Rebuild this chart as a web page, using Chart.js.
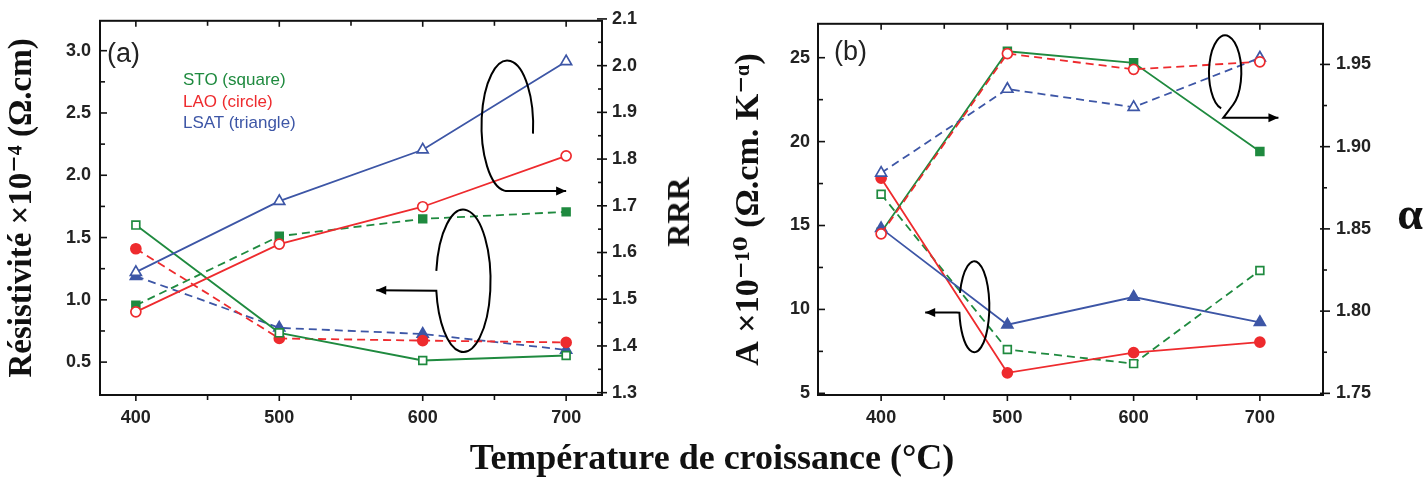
<!DOCTYPE html>
<html><head><meta charset="utf-8">
<script src="https://cdn.jsdelivr.net/npm/chart.js@4.4.1/dist/chart.umd.min.js"></script>
<style>
html,body{margin:0;padding:0;background:#fff;}
#wrap{position:relative;width:1425px;height:485px;overflow:hidden;background:#fff;}
canvas{position:absolute;top:0;}
.t{position:absolute;white-space:nowrap;line-height:1;}
.serif{font-family:"Liberation Serif","DejaVu Serif",serif;font-weight:bold;color:#111;}
.sans{font-family:"Liberation Sans",Arial,sans-serif;}
</style></head><body>
<div id="wrap">
  <canvas id="chartA" width="700" height="440" style="left:0px"></canvas>
  <canvas id="chartB" width="725" height="440" style="left:700px"></canvas>
  <div class="t sans" style="left:107px;top:40px;font-size:27px;color:#222;">(a)</div>
  <div class="t sans" style="left:834px;top:38px;font-size:27px;color:#222;">(b)</div>
  <div class="t sans" style="left:183px;top:71px;font-size:17px;color:#1f8a3f;">STO (square)</div>
  <div class="t sans" style="left:183px;top:93px;font-size:17px;color:#ee2b2e;">LAO (circle)</div>
  <div class="t sans" style="left:183px;top:114px;font-size:17px;color:#3d56a6;">LSAT (triangle)</div>
  <div class="t serif" style="left:678px;top:212px;font-size:32px;transform:translate(-50%,-50%) rotate(-90deg);">RRR</div>
  <div class="t serif" style="left:1410px;top:214px;font-size:46px;transform:translate(-50%,-50%);">α</div>
  <div class="t serif" style="left:712px;top:439px;font-size:36px;transform:translateX(-50%);">Température de croissance (°C)</div>
</div>
<script>
// ---- data ----
const temps = [400, 500, 600, 700];
// panel (a): resistivity (x1e-4 ohm.cm) and RRR
const rhoSTO  = [1.60, 0.735, 0.513, 0.553];
const rhoLAO  = [1.41, 0.69, 0.673, 0.658];
const rhoLSAT = [1.19, 0.775, 0.726, 0.598];
const rrrSTO  = [1.487, 1.635, 1.672, 1.687];
const rrrLAO  = [1.473, 1.618, 1.698, 1.807];
const rrrLSAT = [1.558, 1.710, 1.820, 2.009];
// panel (b): A (x1e-10) and alpha
const aSTO  = [16.86, 7.61, 6.77, 12.32];
const aLAO  = [17.82, 6.22, 7.42, 8.05];
const aLSAT = [14.83, 9.09, 10.74, 9.23];
const alphaSTO  = [1.848, 1.958, 1.951, 1.897];
const alphaLAO  = [1.847, 1.9566, 1.947, 1.9516];
const alphaLSAT = [1.884, 1.935, 1.924, 1.954];
// tick values
const xTicks = [400, 500, 600, 700];
const xMinor = [450, 550, 650];
const rhoTicks = [0.5, 1.0, 1.5, 2.0, 2.5, 3.0];
const rhoMinor = [0.75, 1.25, 1.75, 2.25, 2.75];
const rrrTicks = [1.3, 1.4, 1.5, 1.6, 1.7, 1.8, 1.9, 2.0, 2.1];
const rrrMinor = [1.35, 1.45, 1.55, 1.65, 1.75, 1.85, 1.95, 2.05];
const aTicks = [5, 10, 15, 20, 25];
const aMinor = [7.5, 12.5, 17.5, 22.5];
const alphaTicks = [1.75, 1.80, 1.85, 1.90, 1.95];
const alphaMinor = [1.775, 1.825, 1.875, 1.925];

const GREEN = '#1f8a3f', RED = '#ee2b2e', BLUE = '#3d56a6';
const RAD = {rect: 5.5, circle: 5, triangle: 6.3};

function pts(vals) { return temps.map((t, i) => ({x: t, y: vals[i]})); }
function ds(label, vals, axis, color, style, filled, dashed) {
  return {
    label, data: pts(vals), yAxisID: axis,
    borderColor: color, backgroundColor: color, borderWidth: 1.8,
    borderDash: dashed ? [8, 5] : [],
    pointStyle: style, pointRadius: RAD[style], pointHoverRadius: RAD[style],
    pointBorderWidth: 1.7, pointBorderColor: color,
    pointBackgroundColor: filled ? color : '#ffffff',
    fill: false, tension: 0
  };
}
const tickFont = {family: "'Liberation Sans', Arial, sans-serif", size: 18, weight: 'bold'};
const titleFontA = {family: "'Liberation Serif', 'DejaVu Serif', serif", size: 33, weight: 'bold', lineHeight: 1.2};
const titleFontB = {family: "'Liberation Serif', 'DejaVu Serif', serif", size: 34, weight: 'bold', lineHeight: 1.2};
const setTicks = arr => (s => { s.ticks = arr.map(v => ({value: v})); });

const decor = {
  id: 'decor',
  afterDatasetsDraw(chart, args, opts) {
    const ctx = chart.ctx, a = chart.chartArea;
    ctx.save();
    ctx.setLineDash([]);
    ctx.strokeStyle = '#111'; ctx.lineWidth = 2;
    ctx.strokeRect(a.left, a.top, a.right - a.left, a.bottom - a.top);
    ctx.lineWidth = 1.6;
    for (const t of opts.ticks) {
      const s = chart.scales[t.scale];
      const draw = (vals, inn, out) => {
        for (const v of vals) {
          const p = s.getPixelForValue(v);
          ctx.beginPath();
          if (t.side === 'bottom') { ctx.moveTo(p, a.bottom - inn); ctx.lineTo(p, a.bottom + out); }
          else if (t.side === 'top') { ctx.moveTo(p, a.top - out); ctx.lineTo(p, a.top + inn); }
          else if (t.side === 'left') { ctx.moveTo(a.left - out, p); ctx.lineTo(a.left + inn, p); }
          else { ctx.moveTo(a.right - inn, p); ctx.lineTo(a.right + out, p); }
          ctx.stroke();
        }
      };
      draw(t.major, t.majIn, t.majOut);
      draw(t.minor, t.minIn, t.minOut);
    }
    ctx.lineWidth = 2; ctx.strokeStyle = '#000'; ctx.fillStyle = '#000';
    const xs = chart.scales.x, ys = chart.scales.yL;
    for (const h of opts.hooks) {
      const cx = xs.getPixelForValue(h.cx), cy = ys.getPixelForValue(h.cy);
      const rx = Math.abs(xs.getPixelForValue(h.cx + h.rx) - cx);
      const ry = Math.abs(ys.getPixelForValue(h.cy + h.ry) - cy);
      ctx.beginPath();
      ctx.ellipse(cx, cy, rx, ry, 0, h.a0, h.a1, h.ccw);
      const p = h.path.map(q => [xs.getPixelForValue(q[0]), ys.getPixelForValue(q[1])]);
      for (const q of p) ctx.lineTo(q[0], q[1]);
      ctx.stroke();
      const tip = p[p.length - 1];
      const prev = p.length > 1 ? p[p.length - 2] : [cx + rx * Math.cos(h.a1), cy + ry * Math.sin(h.a1)];
      const ang = Math.atan2(tip[1] - prev[1], tip[0] - prev[0]);
      ctx.beginPath();
      ctx.moveTo(tip[0], tip[1]);
      ctx.lineTo(tip[0] - 10 * Math.cos(ang) + 4.5 * Math.sin(ang), tip[1] - 10 * Math.sin(ang) - 4.5 * Math.cos(ang));
      ctx.lineTo(tip[0] - 10 * Math.cos(ang) - 4.5 * Math.sin(ang), tip[1] - 10 * Math.sin(ang) + 4.5 * Math.cos(ang));
      ctx.closePath(); ctx.fill();
    }
    ctx.restore();
  }
};

function yScale(pos, min, max, ticks, fmt, width, pad, title, titlePad, tFont) {
  const sc = {
    type: 'linear', position: pos, min, max,
    afterBuildTicks: setTicks(ticks),
    afterFit: s => { s.width = width; },
    grid: {display: false, drawTicks: false}, border: {display: false},
    ticks: {font: tickFont, color: '#222', padding: pad, autoSkip: false, callback: v => Number(v).toFixed(fmt)}
  };
  if (title) sc.title = {display: true, text: title, font: tFont, color: '#111', padding: {top: titlePad, bottom: 0}};
  return sc;
}
function xScale(min, max) {
  return {
    type: 'linear', position: 'bottom', min, max,
    afterBuildTicks: setTicks(xTicks),
    afterFit: s => { s.height = 45; },
    grid: {display: false, drawTicks: false}, border: {display: false},
    ticks: {font: tickFont, color: '#222', padding: 12, autoSkip: false, maxRotation: 0, callback: v => String(v)}
  };
}
const common = {
  responsive: false, animation: false, devicePixelRatio: 1,
  layout: {padding: {top: 20, left: 0, right: 0, bottom: 0}},
  plugins: {legend: {display: false}, tooltip: {enabled: false}}
};

new Chart(document.getElementById('chartA'), {
  type: 'line',
  data: {datasets: [
    ds('LSAT RRR', rrrLSAT, 'yR', BLUE, 'triangle', false, false),
    ds('LAO RRR', rrrLAO, 'yR', RED, 'circle', false, false),
    ds('STO RRR', rrrSTO, 'yR', GREEN, 'rect', true, true),
    ds('STO résistivité', rhoSTO, 'yL', GREEN, 'rect', false, false),
    ds('LAO résistivité', rhoLAO, 'yL', RED, 'circle', true, true),
    ds('LSAT résistivité', rhoLSAT, 'yL', BLUE, 'triangle', true, true)
  ]},
  options: Object.assign({}, common, {
    scales: {
      x: xScale(375, 725),
      yL: yScale('left', 0.236, 3.24, rhoTicks, 1, 100, 9, 'Résistivité ×10⁻⁴ (Ω.cm)', 3, titleFontA),
      yR: yScale('right', 1.295, 2.096, rrrTicks, 1, 98, 10, null, 0, null)
    },
    plugins: Object.assign({}, common.plugins, {decor: {
      ticks: [
        {scale: 'x', side: 'bottom', major: xTicks, minor: xMinor, majIn: 0, majOut: 6, minIn: 0, minOut: 5},
        {scale: 'x', side: 'top', major: xTicks, minor: xMinor, majIn: 6, majOut: 0, minIn: 5, minOut: 0},
        {scale: 'yL', side: 'left', major: rhoTicks, minor: rhoMinor, majIn: 7, majOut: 0, minIn: 5, minOut: 0},
        {scale: 'yR', side: 'right', major: rrrTicks, minor: rrrMinor, majIn: 5, majOut: 5, minIn: 4, minOut: 0}
      ],
      hooks: [
        {cx: 659, cy: 2.397, rx: 18, ry: 0.524, a0: 0.12, a1: Math.PI / 2, ccw: true, path: [[700, 1.873]]},
        {cx: 628.3, cy: 1.153, rx: 19, ry: 0.571, a0: Math.PI + 0.14, a1: 3 * Math.PI - 0.14, ccw: false, path: [[567.6, 1.077]]}
      ]
    }})
  }),
  plugins: [decor]
});

new Chart(document.getElementById('chartB'), {
  type: 'line',
  data: {datasets: [
    ds('LAO alpha', alphaLAO, 'yR', RED, 'circle', false, true),
    ds('LSAT alpha', alphaLSAT, 'yR', BLUE, 'triangle', false, true),
    ds('LSAT A', aLSAT, 'yL', BLUE, 'triangle', true, false),
    ds('STO alpha', alphaSTO, 'yR', GREEN, 'rect', true, false),
    ds('LAO A', aLAO, 'yL', RED, 'circle', true, false),
    ds('STO A', aSTO, 'yL', GREEN, 'rect', false, true)
  ]},
  options: Object.assign({}, common, {
    scales: {
      x: xScale(350, 750),
      yL: yScale('left', 4.9, 27.02, aTicks, 0, 118, 8, 'A ×10⁻¹⁰ (Ω.cm. K⁻ᵅ)', 29, titleFontB),
      yR: yScale('right', 1.749, 1.9747, alphaTicks, 2, 102, 13, null, 0, null)
    },
    plugins: Object.assign({}, common.plugins, {decor: {
      ticks: [
        {scale: 'x', side: 'bottom', major: xTicks, minor: xMinor, majIn: 0, majOut: 6, minIn: 0, minOut: 5},
        {scale: 'x', side: 'top', major: xTicks, minor: xMinor, majIn: 6, majOut: 0, minIn: 5, minOut: 0},
        {scale: 'yL', side: 'left', major: aTicks, minor: aMinor, majIn: 7, majOut: 0, minIn: 5, minOut: 0},
        {scale: 'yR', side: 'right', major: alphaTicks, minor: alphaMinor, majIn: 3, majOut: 7, minIn: 0, minOut: 4}
      ],
      hooks: [
        {cx: 672.5, cy: 24.12, rx: 12.8, ry: 2.21, a0: Math.PI / 2 + 0.25, a1: 2.5 * Math.PI - 0.5, ccw: false, path: [[671, 21.42], [714.7, 21.42]]},
        {cx: 473.8, cy: 10.16, rx: 11.9, ry: 2.71, a0: Math.PI + 0.31, a1: 3 * Math.PI - 0.13, ccw: false, path: [[459.8, 9.81], [434.9, 9.81]]}
      ]
    }})
  }),
  plugins: [decor]
});
</script>
</body></html>
